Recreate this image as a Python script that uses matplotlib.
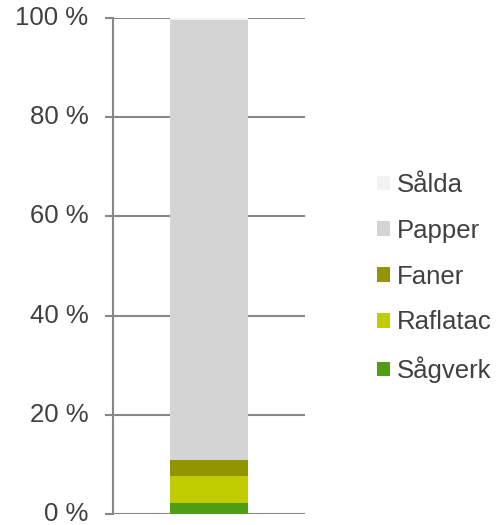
import matplotlib
matplotlib.use('Agg')
import matplotlib.pyplot as plt
from matplotlib.patches import Patch

# data (percent of total)
categories = ['Sågverk', 'Raflatac', 'Faner', 'Papper', 'Sålda']
shares = [2.3, 5.3, 3.2, 88.7, 0.5]
colors = ['#4f9e14', '#c0cc00', '#919600', '#d4d4d4', '#f2f2f2']
yticks = [0, 20, 40, 60, 80, 100]

plt.rcParams['font.family'] = ['Liberation Sans', 'DejaVu Sans']
textColor = '#404040'
gridColor = '#888888'
fs = 18.5

fig = plt.figure(figsize=(4.96, 5.25), dpi=100)
ax = fig.add_axes([113/496, 1-514/525, 192/496, 496/525])

bottom = 0
for name, val, col in zip(categories, shares, colors):
  ax.bar(0, val, width=0.406, bottom=bottom, color=col, zorder=3, label=name)
  bottom += val

ax.set_xlim(-0.5, 0.5)
ax.set_ylim(0, 100)
ax.set_xticks([])
ax.set_yticks(yticks)
ax.set_yticklabels(['%d %%' % t for t in yticks], fontsize=fs, color=textColor)
for lab in ax.get_yticklabels():
  lab.set_verticalalignment('center')
ax.tick_params(axis='y', length=5.8, width=1.5, color=gridColor, pad=12)
ax.yaxis.grid(True, color=gridColor, linewidth=1.5, zorder=0)
for s in ['top', 'right', 'bottom']:
  ax.spines[s].set_visible(False)
ax.spines['left'].set_color(gridColor)
ax.spines['left'].set_linewidth(1.5)
ax.spines['left'].set_zorder(4)

#legend, top entry first
handles = [Patch(facecolor=c, edgecolor='none') for c in colors[::-1]]
leg = fig.legend(handles, categories[::-1], loc='center left',
                 bbox_to_anchor=(377/496, 1-278/525), frameon=False,
                 fontsize=fs, handlelength=0.5, handleheight=0.5,
                 handletextpad=0.27, labelspacing=0.85, borderpad=0,
                 borderaxespad=0)
for t in leg.get_texts():
  t.set_color(textColor)

plt.savefig('out.png', dpi=100)
